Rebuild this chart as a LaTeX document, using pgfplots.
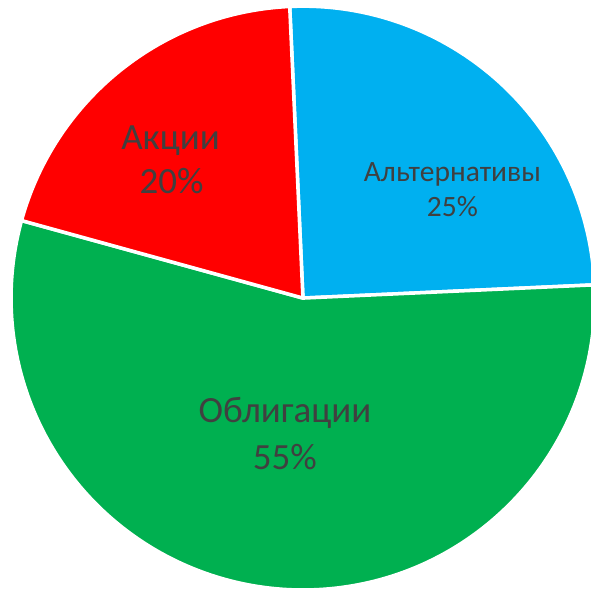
\documentclass[border=0pt]{standalone}
\usepackage{fontspec}
\setmainfont{Carlito}
\usepackage{pgfplots}
\pgfplotsset{compat=1.18}

\definecolor{altblue}{HTML}{00B0F0}
\definecolor{bondgreen}{HTML}{00B050}
\definecolor{stockred}{HTML}{FF0000}
\definecolor{labelgray}{HTML}{404040}

% shares in percent, drawn clockwise from the start angle
\def\shareAlt{25}
\def\shareBond{55}
\def\shareStock{20}
\def\startangle{92.6}
\def\cx{302}
\def\cy{293}
\def\rad{291bp}

\begin{document}
\begin{tikzpicture}
\begin{axis}[
  scale only axis,
  width=589bp, height=592bp,
  xmin=0, xmax=589, ymin=0, ymax=592,
  hide axis,
  clip=true
]
\pgfmathsetmacro{\aA}{\startangle}
\pgfmathsetmacro{\aB}{\aA-3.6*\shareAlt}
\pgfmathsetmacro{\aC}{\aB-3.6*\shareBond}
\pgfmathsetmacro{\aD}{\aC-3.6*\shareStock}

\filldraw[fill=altblue, draw=white, line width=3.5bp, line join=round]
  (axis cs:\cx,\cy) -- ++(\aA:\rad) arc[start angle=\aA, end angle=\aB, radius=\rad] -- cycle;
\filldraw[fill=bondgreen, draw=white, line width=3.5bp, line join=round]
  (axis cs:\cx,\cy) -- ++(\aB:\rad) arc[start angle=\aB, end angle=\aC, radius=\rad] -- cycle;
\filldraw[fill=stockred, draw=white, line width=3.5bp, line join=round]
  (axis cs:\cx,\cy) -- ++(\aC:\rad) arc[start angle=\aC, end angle=\aD, radius=\rad] -- cycle;

% labels
\begin{scope}[every node/.style={text=labelgray, inner sep=0pt, anchor=base}]
\node[font=\fontsize{29.5}{34}\selectfont] at (axis cs:451,409) {Альтернативы};
\node[font=\fontsize{29.5}{34}\selectfont] at (axis cs:451,374) {25\%};
\node[font=\fontsize{37}{44}\selectfont] at (axis cs:170,441) {Акции};
\node[font=\fontsize{37}{44}\selectfont] at (axis cs:171,397) {20\%};
\node[font=\fontsize{37}{44}\selectfont] at (axis cs:284,169) {Облигации};
\node[font=\fontsize{37}{44}\selectfont] at (axis cs:284,122) {55\%};
\end{scope}
\end{axis}
\end{tikzpicture}
\end{document}
